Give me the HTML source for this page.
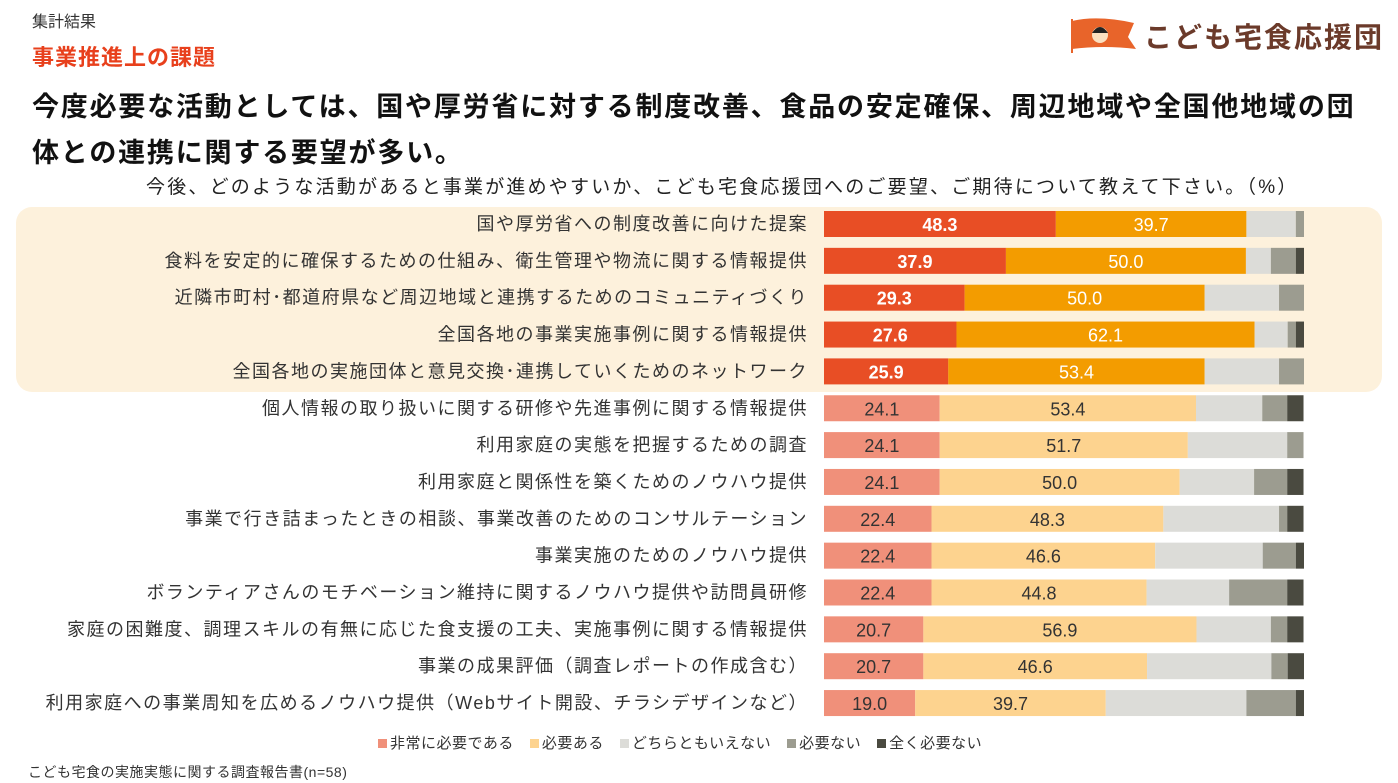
<!DOCTYPE html>
<html><head><meta charset="utf-8"><style>
body{margin:0;width:1398px;height:783px;background:#fff;overflow:hidden;font-family:"Liberation Sans","Noto Sans CJK JP",sans-serif;position:relative;color:#222}
.abs{position:absolute;white-space:nowrap}
</style></head><body>
<div class="abs" style="left:32px;top:8px;font-size:16px;color:#333">集計結果</div>
<div class="abs" style="left:32px;top:40px;font-size:22px;font-weight:bold;color:#e8401c;letter-spacing:1px">事業推進上の課題</div>
<div class="abs" style="left:1068px;top:16px;display:flex;align-items:center">
<svg width="70" height="38" viewBox="0 0 70 38"><path d="M4 4 Q30 -2 66 6 L60 20 L68 32 Q36 28 4 32 Z" fill="#e8642a"/><line x1="4" y1="2" x2="4" y2="36" stroke="#e8642a" stroke-width="2"/><circle cx="32" cy="18" r="8" fill="#fbe0c0"/><path d="M24 16 Q32 4 40 16 Z" fill="#222"/></svg>
<span style="font-size:28px;font-weight:bold;color:#6b3a2a;margin-left:6px;letter-spacing:2px">こども宅食応援団</span></div>
<div class="abs" style="left:32px;top:84px;font-size:27px;font-weight:bold;line-height:46px;color:#111;letter-spacing:1.8px">今度必要な活動としては、国や厚労省に対する制度改善、食品の安定確保、周辺地域や全国他地域の団<br>体との連携に関する要望が多い。</div>
<div class="abs" style="left:146px;top:172px;font-size:19px;color:#222;letter-spacing:2.2px">今後、どのような活動があると事業が進めやすいか、こども宅食応援団へのご要望、ご期待について教えて下さい。（%）</div>
<div class="abs" style="left:16px;top:207px;width:1366px;height:185px;background:#fdf1dc;border-radius:16px"></div>
<svg id="chart" class="abs" style="left:0;top:0" width="1398" height="783"></svg>
<div class="abs" style="left:378px;top:732px;font-size:15px;color:#333;display:flex;gap:16px;letter-spacing:0.5px">
<span><span style="display:inline-block;width:9px;height:9px;background:#f0907a;margin-right:3px"></span>非常に必要である</span>
<span><span style="display:inline-block;width:9px;height:9px;background:#fdd38f;margin-right:3px"></span>必要ある</span>
<span><span style="display:inline-block;width:9px;height:9px;background:#dcdcd8;margin-right:3px"></span>どちらともいえない</span>
<span><span style="display:inline-block;width:9px;height:9px;background:#9c9c90;margin-right:3px"></span>必要ない</span>
<span><span style="display:inline-block;width:9px;height:9px;background:#4a4a40;margin-right:3px"></span>全く必要ない</span></div>
<div class="abs" style="left:28px;top:762px;font-size:14px;color:#333;letter-spacing:0.5px">こども宅食の実施実態に関する調査報告書(n=58)</div>
<script>
const categories=["国や厚労省への制度改善に向けた提案","食料を安定的に確保するための仕組み、衛生管理や物流に関する情報提供","近隣市町村･都道府県など周辺地域と連携するためのコミュニティづくり","全国各地の事業実施事例に関する情報提供","全国各地の実施団体と意見交換･連携していくためのネットワーク","個人情報の取り扱いに関する研修や先進事例に関する情報提供","利用家庭の実態を把握するための調査","利用家庭と関係性を築くためのノウハウ提供","事業で行き詰まったときの相談、事業改善のためのコンサルテーション","事業実施のためのノウハウ提供","ボランティアさんのモチベーション維持に関するノウハウ提供や訪問員研修","家庭の困難度、調理スキルの有無に応じた食支援の工夫、実施事例に関する情報提供","事業の成果評価（調査レポートの作成含む）","利用家庭への事業周知を広めるノウハウ提供（Webサイト開設、チラシデザインなど）"];
const veryNeeded=[48.3,37.9,29.3,27.6,25.9,24.1,24.1,24.1,22.4,22.4,22.4,20.7,20.7,19.0];
const needed=[39.7,50.0,50.0,62.1,53.4,53.4,51.7,50.0,48.3,46.6,44.8,56.9,46.6,39.7];
const neutral=[10.3,5.2,15.5,6.9,15.5,13.8,20.7,15.5,24.1,22.4,17.2,15.5,25.9,29.3];
const notNeeded=[1.7,5.2,5.2,1.7,5.2,5.2,3.4,6.9,1.7,6.9,12.1,3.4,3.4,10.3];
const notAtAll=[0,1.7,0,1.7,0,3.4,0,3.4,3.4,1.7,3.4,3.4,3.4,1.7];
const highlightCount=5;
const svg=document.getElementById('chart');const NS='http://www.w3.org/2000/svg';
const x0=824,scale=4.8,y0=224,step=36.85,bh=26;
const xPos=v=>x0+v*scale, yPos=i=>y0+i*step;
categories.forEach((c,i)=>{
 const y=yPos(i);const hi=i<highlightCount;
 const t=document.createElementNS(NS,'text');
 t.setAttribute('x',808);t.setAttribute('y',y+6);t.setAttribute('text-anchor','end');t.setAttribute('font-size','18');t.setAttribute('letter-spacing','1.5');t.setAttribute('fill','#333');
 
 
 t.textContent=c;svg.appendChild(t);
 const vals=[veryNeeded[i],needed[i],neutral[i],notNeeded[i],notAtAll[i]];
 const cols=hi?['#e84e25','#f39c00','#dcdcd8','#9c9c90','#4a4a40']:['#f0907a','#fdd38f','#dcdcd8','#9c9c90','#4a4a40'];
 const names=['very-needed','needed','neutral','not-needed','not-at-all'];
 let acc=0;
 vals.forEach((v,k)=>{
  if(v<=0)return;
  const r=document.createElementNS(NS,'rect');
  r.setAttribute('x',xPos(acc));r.setAttribute('y',y-bh/2);r.setAttribute('width',v*scale);r.setAttribute('height',bh);r.setAttribute('fill',cols[k]);
  
  
  svg.appendChild(r);
  if(k<2){const l=document.createElementNS(NS,'text');
   l.setAttribute('x',xPos(acc+v/2));l.setAttribute('y',y+7);l.setAttribute('text-anchor','middle');l.setAttribute('font-size','18');
   l.setAttribute('fill',hi?'#fff':'#333');if(hi&&k===0)l.setAttribute('font-weight','bold');
   
   
   l.textContent=v.toFixed(1);svg.appendChild(l);}
  acc+=v;});
});
</script>
</body></html>
